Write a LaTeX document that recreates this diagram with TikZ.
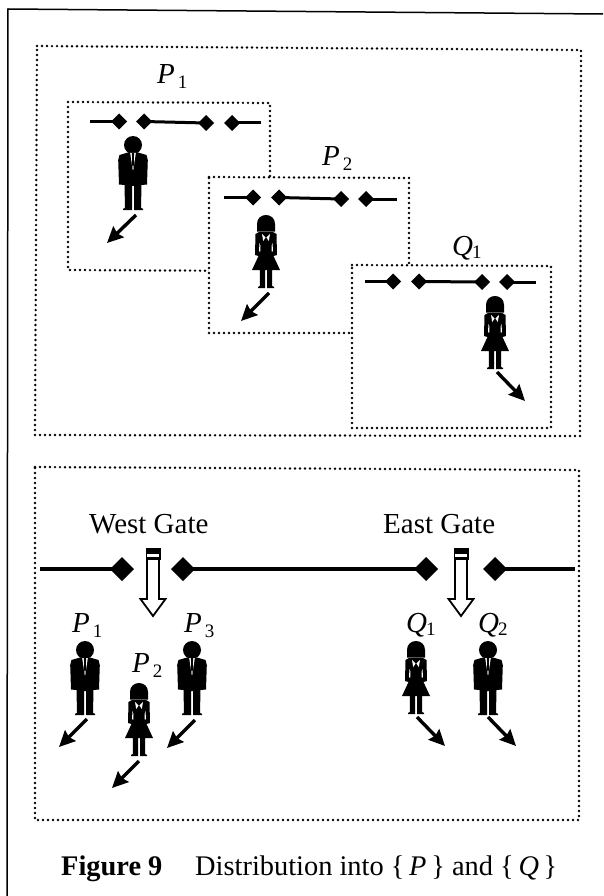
\documentclass[tikz,border=0pt]{standalone}
\usepackage{fontspec}
\setmainfont{Liberation Serif}
\usetikzlibrary{arrows.meta}
\newcommand{\lab}{\fontsize{29}{32}\selectfont}
\newcommand{\caplab}{\fontsize{28.4}{32}\selectfont}
\newcommand{\sublab}{\fontsize{19}{22}\selectfont}
\newcommand{\tagged}[2]{{\lab\textit{#1}\kern3pt\raisebox{-5pt}{\sublab #2}}}
\newcommand{\taggedq}[2]{{\lab\textit{#1}\kern-1pt\raisebox{-3pt}{\sublab #2}}}
\newcommand{\gline}[8]{% y0 y1 x0 d1 d2 d3 d4 x1 (small gate line)
  \draw[wall] (#3,#1) -- (#4,#1);
  \draw[wall] (#5,#1) -- (#6,#2);
  \draw[wall] (#7,#2) -- (#8,#2);
  \fill (#4-8,#1) -- (#4,#1-8) -- (#4+8,#1) -- (#4,#1+8) -- cycle;
  \fill (#5-8,#1) -- (#5,#1-8) -- (#5+8,#1) -- (#5,#1+8) -- cycle;
  \fill (#6-8,#2) -- (#6,#2-8) -- (#6+8,#2) -- (#6,#2+8) -- cycle;
  \fill (#7-8,#2) -- (#7,#2-8) -- (#7+8,#2) -- (#7,#2+8) -- cycle;
}
\tikzset{
  dotted frame/.style={line width=2.7pt,line cap=round,dash pattern=on 0pt off 5pt,line join=round},
  wall/.style={line width=3pt},
  walk/.style={line width=3.4pt,-{Stealth[length=16pt,width=15pt,inset=2pt]}},
  man/.pic={
    \begin{scope}[yscale=-1]
    \fill (0,65) circle (9);
    \fill (-5,57.5) -- (-13.5,55) -- (-14.8,50) -- (-14,25.5) -- (-8.5,25) -- (-8,2) -- (-10,1.2) -- (-10,0) -- (-1,0) -- (-1,24)
      -- (1,24) -- (1,0) -- (10,0) -- (10,1.2) -- (8,2) -- (8.5,25) -- (14,25.5) -- (14.8,50) -- (13.5,55) -- (5,57.5) -- cycle;
    \fill[white] (-2.8,57) -- (2.8,57) -- (0.3,40) -- (-0.3,40) -- cycle;
    \fill (-1.1,57) -- (1.1,57) -- (0.9,52) -- (1.1,46) -- (0,42) -- (-1.1,46) -- (-0.9,52) -- cycle;
    \end{scope}
  },
  woman/.pic={
    \begin{scope}[yscale=-1]
    \fill (-9,56.5) -- (-9,64) .. controls (-9,69.5) and (-5,73) .. (0,73) .. controls (5,73) and (9,69.5) .. (9,64) -- (9,56.5) -- cycle;
    \fill (-7,56) -- (-10.5,54) -- (-11,33) -- (-7.5,32) -- (-14,18) -- (-6.2,18) -- (-6.2,2) -- (-8,1) -- (-8,0) -- (-1,0) -- (-1,18) -- (1,18) -- (1,0)
      -- (8,0) -- (8,1) -- (6.2,2) -- (6.2,18) -- (14,18) -- (7.5,32) -- (11,33) -- (10.5,54) -- (7,56) -- cycle;
    \fill[white] (-4,54) -- (-0.4,50.5) -- (-2.8,47) -- cycle;
    \fill[white] (4,54) -- (0.4,50.5) -- (2.8,47) -- cycle;
    \fill[white] (-6.5,45) -- (-5.5,42) -- (-5.8,36) -- (-7,37) -- cycle;
    \fill[white] (6.5,45) -- (5.5,42) -- (5.8,36) -- (7,37) -- cycle;
    \end{scope}
  },
}
\newcommand{\blockarrow}[1]{%
  \draw[line width=1.8pt,fill=white,line join=miter] (#1-6,558) -- (#1-6,599) -- (#1-12.5,599) -- (#1,616) -- (#1+12.5,599) -- (#1+6,599) -- (#1+6,558) -- cycle;
  \fill (#1-6.8,549) rectangle (#1+6.8,554);
  \draw[line width=1.4pt] (#1-6.8,549) rectangle (#1+6.8,559);
}
\begin{document}
\begin{tikzpicture}[x=1pt,y=-1pt]
\useasboundingbox (0,0) rectangle (603,896);
% page frame
\draw[line width=1.5pt] (603,14) -- (8,9) -- (7,896);
% top panel
\draw[dotted frame] (37,46) -- (581,50) -- (580,436) -- (35,435) -- cycle;
\draw[dotted frame,fill=white] (68,102) -- (270,103) -- (270,271) -- (68,270) -- cycle;
\gline{121.5}{123}{90}{119}{144}{206}{232}{261}
\path (133,210) pic {man};
\draw[walk] (136,215) -- (107,243);
\node[anchor=base west,inner sep=0pt] (p1a) at (157,84) {\tagged{P}{1}};
\draw[dotted frame,fill=white] (209,177) -- (409,178) -- (409,333) -- (209,333) -- cycle;
\gline{197.5}{199}{224}{253}{279}{341}{366}{397}
\path (266,288) pic {woman};
\draw[walk] (269,293) -- (241,321);
\node[anchor=base west,inner sep=0pt] (p2a) at (322,166) {\tagged{P}{2}};
\draw[dotted frame,fill=white] (352,265) -- (551,266) -- (551,428) -- (352,428) -- cycle;
\gline{281.5}{282}{365}{393}{419}{482}{507}{536}
\path (495,369) pic {woman};
\draw[walk] (497,372) -- (525,401);
\node[anchor=base west,inner sep=0pt] (q1a) at (452,255) {\taggedq{Q}{1}};
% bottom panel
\draw[dotted frame] (35,467) -- (579,470) -- (579,820) -- (35,820) -- cycle;
\node[anchor=base west,inner sep=0pt] (west) at (89,533) {\lab West Gate};
\node[anchor=base west,inner sep=0pt] (east) at (383,533) {\lab East Gate};
\draw[wall,line width=3.8pt] (40,569) -- (122,569);
\draw[wall,line width=3.8pt] (183,569) -- (426,569);
\draw[wall,line width=3.8pt] (495,569) -- (575,569);
\foreach \dx in {122,183,426,495} \fill (\dx-12,569) -- (\dx,557) -- (\dx+12,569) -- (\dx,581) -- cycle;
\blockarrow{153}
\blockarrow{461}
\node[anchor=base west,inner sep=0pt] (p1b) at (72,632) {\tagged{P}{1}};
\node[anchor=base west,inner sep=0pt] (p3b) at (184,632) {\tagged{P}{3}};
\node[anchor=base west,inner sep=0pt] (p2b) at (132,672) {\tagged{P}{2}};
\node[anchor=base west,inner sep=0pt] (q1b) at (406,632) {\taggedq{Q}{1}};
\node[anchor=base west,inner sep=0pt] (q2b) at (478,632) {\taggedq{Q}{2}};
\path (85,715) pic {man};
\path (192,715) pic {man};
\path (139,756) pic {woman};
\path (416,714) pic {woman};
\path (488,715) pic {man};
\draw[walk] (87,719) -- (59,747);
\draw[walk] (195,720) -- (167,748);
\draw[walk] (139,761) -- (112,788);
\draw[walk] (417,717) -- (445,746);
\draw[walk] (488,717) -- (516,746);
% caption
\node[anchor=base west,inner sep=0pt] (figlab) at (61,875) {\caplab\textbf{Figure 9}};
\node[anchor=base west,inner sep=0pt] (figcap) at (195,875) {\caplab Distribution into \{\,\textit{P}\,\} and \{\,\textit{Q}\,\}};
\end{tikzpicture}
\end{document}
